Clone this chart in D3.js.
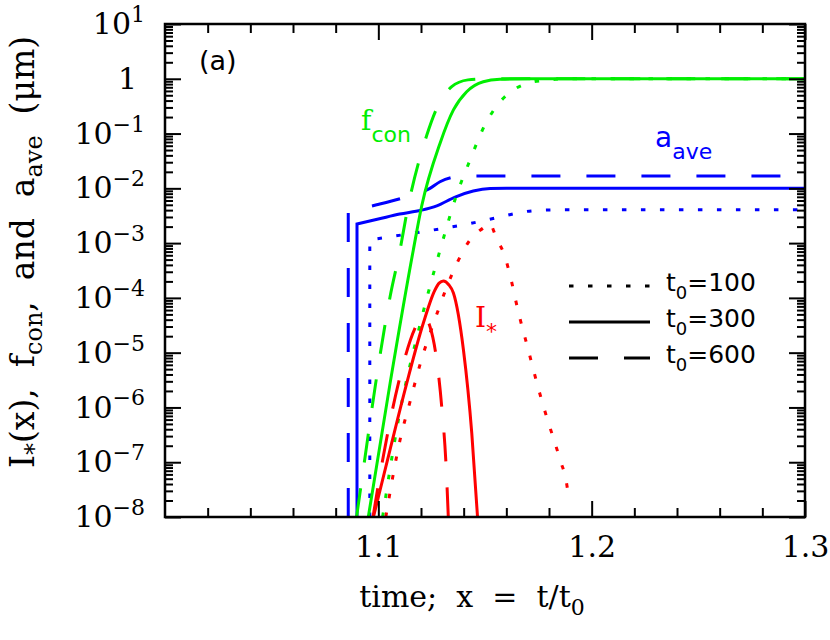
<!DOCTYPE html>
<html>
<head>
<meta charset="utf-8">
<script src="https://cdn.jsdelivr.net/npm/d3@7"></script>
<style>
	body { margin: 0; background: #fff; }
	text { fill: #000; }
</style>
</head>
<body>
<script>
'use strict'

// x = t/t0 and values; one pair of arrays per curve
// a_ave (blue)
const aave100X = [1.096, 1.096, 1.1063, 1.1242, 1.1414, 1.1594, 1.168, 1.18, 1.19, 1.3];
const aave100Y = [1e-8, 1.15e-3, 1.32e-3, 1.70e-3, 2.21e-3, 3.16e-3, 3.72e-3, 4.03e-3, 4.07e-3, 4.07e-3];
const aave300X = [1.09, 1.09, 1.10, 1.11, 1.12, 1.1274, 1.136, 1.1445, 1.1524, 1.16, 1.3];
const aave300Y = [1e-8, 2.24e-3, 2.75e-3, 3.39e-3, 3.98e-3, 4.79e-3, 6.92e-3, 8.91e-3, 9.9e-3, 1.0e-2, 1.0e-2];
const aave600X = [1.0859, 1.0859, 1.0992, 1.1126, 1.1242, 1.1289, 1.136, 1.142, 1.3];
const aave600Y = [1e-8, 3.8e-3, 5.0e-3, 6.9e-3, 1.0e-2, 1.32e-2, 1.62e-2, 1.68e-2, 1.68e-2];

// f_con (green)
const fcon100X = [1.102, 1.1094, 1.1195, 1.129, 1.1367, 1.143, 1.15, 1.1547, 1.161, 1.1688, 1.177, 1.19, 1.3];
const fcon100Y = [1e-8, 5.9e-7, 3.2e-5, 7.6e-4, 7.6e-3, 3.3e-2, 0.145, 0.29, 0.54, 0.80, 0.93, 1, 1];
const fcon300X = [1.0953, 1.1055, 1.1164, 1.1203, 1.1289, 1.1352, 1.1414, 1.1492, 1.157, 1.17, 1.3];
const fcon300Y = [1e-8, 2.75e-6, 7.5e-4, 4.7e-3, 6.6e-2, 0.27, 0.58, 0.885, 0.977, 1, 1];
const fcon600X = [1.0898, 1.0938, 1.0992, 1.1055, 1.1102, 1.1133, 1.1227, 1.1274, 1.1344, 1.142, 1.15, 1.3];
const fcon600Y = [1e-8, 1.26e-7, 3.6e-6, 1.05e-4, 7.6e-4, 3.5e-3, 9.3e-2, 0.29, 0.72, 0.955, 1, 1];

// I_* (red)
const istar100X = [1.1035, 1.1102, 1.1149, 1.1195, 1.1281, 1.1313, 1.1344, 1.1383, 1.143, 1.1492, 1.152, 1.1555,
	1.1594, 1.1617, 1.1656, 1.1703, 1.175, 1.1774, 1.1855, 1.188, 1.1893];
const istar100Y = [1e-8, 2.57e-7, 1.29e-6, 6.0e-6, 6.0e-5, 1.32e-4, 2.63e-4, 5.6e-4, 1.15e-3, 1.9e-3, 2.3e-3, 1.2e-3,
	5.6e-4, 2.63e-4, 5.6e-5, 1.12e-5, 2.24e-6, 1.05e-6, 1.02e-7, 4.7e-8, 2.14e-8];
const istar300X = [1.0977, 1.1055, 1.1133, 1.1211, 1.1266, 1.1285, 1.1305, 1.133, 1.1352, 1.1399, 1.1438, 1.1465];
const istar300Y = [1e-8, 1.7e-7, 2.75e-6, 3.47e-5, 1.41e-4, 1.86e-4, 2.04e-4, 1.74e-4, 1.23e-4, 1.12e-5, 3.4e-7, 1e-8];
const istar600X = [1.0975, 1.1023, 1.1094, 1.1172, 1.1208, 1.1242, 1.127, 1.1297, 1.1317, 1.1328];
const istar600Y = [1e-8, 1.26e-7, 2.75e-6, 2.8e-5, 4.8e-5, 3.0e-5, 9.1e-6, 1.05e-6, 9.5e-8, 1e-8];

// ticks
const xMajor = [1.1, 1.2, 1.3];
const xMinor = [1.02, 1.04, 1.06, 1.08, 1.12, 1.14, 1.16, 1.18, 1.22, 1.24, 1.26, 1.28];
const yDecades = [-8, -7, -6, -5, -4, -3, -2, -1, 0, 1];
const legendLabels = ['100', '300', '600'];

;(() => {
	const W = 830, H = 640;
	const m = { left: 165, right: 25, top: 24, bottom: 123 };
	const iw = W - m.left - m.right, ih = H - m.top - m.bottom;

	const colors = { blue: '#0000ff', green: '#00ee00', red: '#ff0000' };
	const dashes = { t100: '4.5,14.5', t300: null, t600: '29,26' };

	const svg = d3.select('body').append('svg')
		.attr('width', W)
		.attr('height', H)
		.style('font-family', '"DejaVu Serif", serif');

	const x = d3.scaleLinear().domain([1.0, 1.3]).range([0, iw]);
	const y = d3.scaleLog().domain([1e-8, 10]).range([ih, 0]);

	const g = svg.append('g').attr('transform', `translate(${m.left},${m.top})`);

	g.append('clipPath').attr('id', 'clip')
		.append('rect').attr('width', iw).attr('height', ih);

	// curves
	const series = [
		{ xs: aave100X, ys: aave100Y, c: colors.blue, d: dashes.t100 },
		{ xs: aave300X, ys: aave300Y, c: colors.blue, d: dashes.t300 },
		{ xs: aave600X, ys: aave600Y, c: colors.blue, d: dashes.t600 },
		{ xs: fcon100X, ys: fcon100Y, c: colors.green, d: dashes.t100 },
		{ xs: fcon300X, ys: fcon300Y, c: colors.green, d: dashes.t300 },
		{ xs: fcon600X, ys: fcon600Y, c: colors.green, d: dashes.t600 },
		{ xs: istar100X, ys: istar100Y, c: colors.red, d: dashes.t100 },
		{ xs: istar300X, ys: istar300Y, c: colors.red, d: dashes.t300 },
		{ xs: istar600X, ys: istar600Y, c: colors.red, d: dashes.t600 }
	];

	const line = d3.line()
		.x(d => x(d[0]))
		.y(d => y(d[1]))
		.curve(d3.curveMonotoneX);

	// a vertical rise (same x twice) is drawn straight, the rest smoothed
	const pathFor = s => {
		const pts = s.xs.map((v, i) => [v, s.ys[i]]);
		if (pts[0][0] === pts[1][0]) {
			return `M${x(pts[0][0])},${y(pts[0][1])}L` + line(pts.slice(1)).slice(1);
		}
		return line(pts);
	};

	g.append('g').attr('clip-path', 'url(#clip)')
		.selectAll('path')
		.data(series)
		.enter().append('path')
		.attr('d', pathFor)
		.attr('fill', 'none')
		.attr('stroke', s => s.c)
		.attr('stroke-width', 3)
		.attr('stroke-dasharray', s => s.d);

	// axes, ticks pointing inward on all four sides
	const drawAxis = (axis, tr) => {
		const a = g.append('g').attr('transform', tr).call(axis);
		a.select('.domain').remove();
		a.selectAll('line').attr('stroke', '#000').attr('stroke-width', 2);
		return a;
	};

	const yMinor = [];
	yDecades.slice(0, -1).forEach(e => {
		for (let k = 2; k <= 9; k++) yMinor.push(k * Math.pow(10, e));
	});
	const yMajor = yDecades.map(e => Math.pow(10, e));

	drawAxis(d3.axisBottom(x).tickValues(xMinor).tickSize(-9).tickFormat(''), `translate(0,${ih})`);
	drawAxis(d3.axisTop(x).tickValues(xMinor).tickSize(-9).tickFormat(''), 'translate(0,0)');
	drawAxis(d3.axisTop(x).tickValues(xMajor).tickSize(-16).tickFormat(''), 'translate(0,0)');
	const xAx = drawAxis(d3.axisBottom(x).tickValues(xMajor).tickSize(-16).tickPadding(19)
		.tickFormat(d3.format('.1f')), `translate(0,${ih})`);
	xAx.selectAll('text').attr('font-size', 30).attr('font-family', '"DejaVu Serif", serif');

	drawAxis(d3.axisLeft(y).tickValues(yMinor).tickSize(-8).tickFormat(''), 'translate(0,0)');
	drawAxis(d3.axisRight(y).tickValues(yMinor).tickSize(-8).tickFormat(''), `translate(${iw},0)`);
	drawAxis(d3.axisRight(y).tickValues(yMajor).tickSize(-16).tickFormat(''), `translate(${iw},0)`);
	const yAx = drawAxis(d3.axisLeft(y).tickValues(yMajor).tickSize(-16).tickPadding(20), 'translate(0,0)');
	yAx.selectAll('text')
		.attr('font-size', 30)
		.attr('font-family', '"DejaVu Serif", serif')
		.each(function(d) {
			const t = d3.select(this).text(null);
			const e = Math.round(Math.log10(d));
			if (e === 0) {
				t.attr('dx', -8).text('1');
				return;
			}
			t.append('tspan').text('10');
			t.append('tspan').attr('dy', '-0.55em').attr('font-size', 22)
				.text(e < 0 ? '\u2212' + (-e) : String(e));
		});

	// frame
	g.append('rect')
		.attr('width', iw).attr('height', ih)
		.attr('fill', 'none').attr('stroke', '#000').attr('stroke-width', 2.5);

	// axis titles
	svg.append('text')
		.attr('x', 472).attr('y', 607)
		.attr('text-anchor', 'middle')
		.attr('font-size', 30)
		.style('white-space', 'pre')
		.call(t => {
			t.append('tspan').text('time;  x  =  t/t');
			t.append('tspan').attr('dy', 8).attr('font-size', 22).text('0');
		});

	const yt = svg.append('text')
		.attr('transform', 'translate(34,252) rotate(-90)')
		.attr('text-anchor', 'middle')
		.attr('font-size', 33)
		.style('white-space', 'pre');
	[['I', 0, 33], ['*', 8, 24], ['(x),  f', -8, 33], ['con', 8, 24], [',  and  a', -8, 33], ['ave', 8, 24], ['  (\u03bcm)', -8, 33]]
		.forEach(p => yt.append('tspan').attr('dy', p[1]).attr('font-size', p[2]).text(p[0]));

	// panel tag and curve labels
	svg.append('text').attr('x', 199).attr('y', 70)
		.attr('font-size', 27).attr('font-family', '"DejaVu Sans", sans-serif').text('(a)');

	const curveLabel = (px, py, main, sub, c, mainFont) => {
		const t = svg.append('text').attr('x', px).attr('y', py).style('fill', c)
			.attr('font-size', 28);
		t.append('tspan').attr('font-family', mainFont).text(main);
		t.append('tspan').attr('dy', 12).attr('font-size', 22)
			.attr('font-family', '"DejaVu Sans", sans-serif').text(sub);
	};
	curveLabel(361, 130, 'f', 'con', colors.green, '"DejaVu Serif", serif');
	curveLabel(655, 147, 'a', 'ave', colors.blue, '"DejaVu Sans", sans-serif');
	curveLabel(475, 327, 'I', '*', colors.red, '"DejaVu Serif", serif');

	// legend
	const leg = svg.append('g').attr('font-family', '"DejaVu Sans", sans-serif');
	const legY = [286, 322, 358];
	const legD = [dashes.t100, dashes.t300, dashes.t600];
	legendLabels.forEach((lab, i) => {
		leg.append('line')
			.attr('x1', 569).attr('x2', 650)
			.attr('y1', legY[i]).attr('y2', legY[i])
			.attr('stroke', '#000').attr('stroke-width', 3)
			.attr('stroke-dasharray', legD[i]);
		const t = leg.append('text').attr('x', 666).attr('y', legY[i] + 5).attr('font-size', 25);
		t.append('tspan').text('t');
		t.append('tspan').attr('dy', 8).attr('font-size', 18).text('0');
		t.append('tspan').attr('dy', -8).text('=' + lab);
	});
})();
</script>
</body>
</html>
